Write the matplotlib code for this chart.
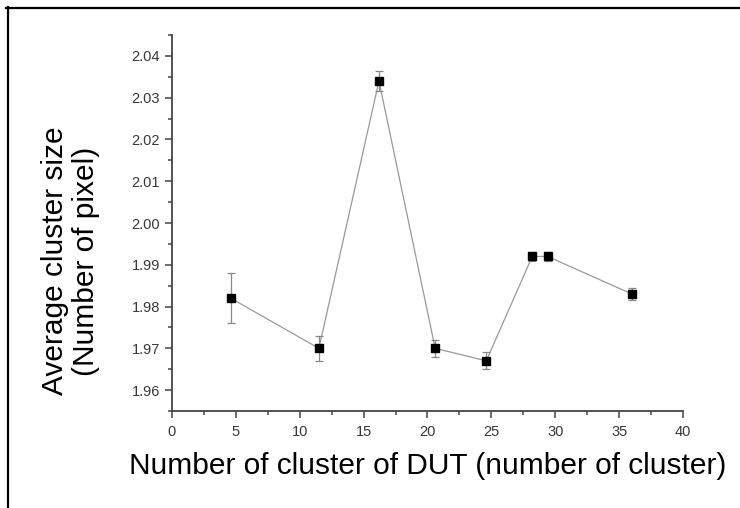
import matplotlib
matplotlib.use("Agg")
import matplotlib.pyplot as plt
from matplotlib.lines import Line2D
from matplotlib.ticker import MultipleLocator, FormatStrFormatter

plt.rcParams['font.family'] = ['Liberation Sans', 'DejaVu Sans']

# number of clusters of DUT vs mean cluster size
n_cluster = [4.6, 11.5, 16.2, 20.6, 24.6, 28.2, 29.4, 36.0]
avg_size = [1.982, 1.970, 2.034, 1.970, 1.967, 1.992, 1.992, 1.983]
size_err = [0.006, 0.003, 0.0025, 0.002, 0.002, 0.001, 0.001, 0.0015]

fig = plt.figure(figsize=(7.4, 5.08), dpi=100)
ax = fig.add_axes([0.2324, 0.191, 0.6906, 0.740])

ax.plot(n_cluster, avg_size, color="#999999", lw=0.9, zorder=1)
ax.errorbar(n_cluster, avg_size, yerr=size_err, fmt="none", ecolor="#888888",
            elinewidth=0.9, capsize=3, capthick=0.9, zorder=2)
ax.plot(n_cluster, avg_size, ls="none", marker="s", ms=6.3, color="black", zorder=3)

ax.set_xlim(0, 40)
ax.set_ylim(1.955, 2.045)
ax.xaxis.set_major_locator(MultipleLocator(5))
ax.xaxis.set_minor_locator(MultipleLocator(2.5))
ax.yaxis.set_major_locator(MultipleLocator(0.01))
ax.yaxis.set_minor_locator(MultipleLocator(0.005))
ax.yaxis.set_major_formatter(FormatStrFormatter("%.2f"))

for side in ["top", "right"]:
    ax.spines[side].set_visible(False)
for side in ["left", "bottom"]:
    ax.spines[side].set_linewidth(1.3)
    ax.spines[side].set_color("#444444")

ax.tick_params(which="major", direction="out", length=5, width=1.1, color="#444444",
               labelsize=10.5, labelcolor="#383838")
ax.tick_params(axis="y", which="major", pad=3.5)
ax.tick_params(axis="x", which="major", pad=5)
ax.tick_params(which="minor", direction="out", length=3, width=1.1, color="#444444")

ax.set_xlabel("Number of cluster of DUT (number of cluster)", fontsize=21.5)
ax.xaxis.set_label_coords(0.501, -0.11)
ax.set_ylabel("Average cluster size\n(Number of pixel)", fontsize=21.5, linespacing=1.12)
ax.yaxis.set_label_coords(-0.141, 0.399)

# frame lines along the top and left edges
fig.add_artist(Line2D([0.008, 1.0], [0.984, 0.984], color="black", lw=1.6))
fig.add_artist(Line2D([0.0108, 0.0108], [0.0, 0.986], color="black", lw=1.6))

fig.savefig("out.png", dpi=100)
